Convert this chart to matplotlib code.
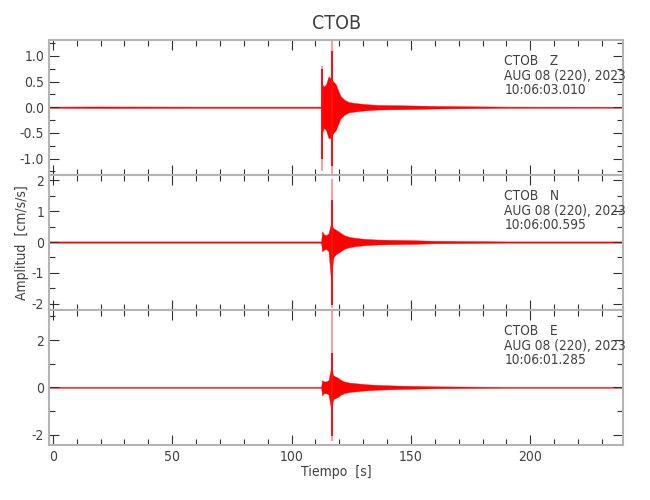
import matplotlib
matplotlib.use("Agg")
import matplotlib.pyplot as plt
from matplotlib.ticker import MultipleLocator
import numpy as np

title = "CTOB"
station = "CTOB"
components = ["Z", "N", "E"]
date_label = "AUG 08 (220), 2023"
start_times = ["10:06:03.010", "10:06:00.595", "10:06:01.285"]
xlabel = "Tiempo  [s]"
ylabel = "Amplitud  [cm/s/s]"

# envelope of the traces (time in s, amplitude in cm/s/s)
t_env = [-1.5, 20, 60, 100, 112.4, 112.8, 113.5, 114.5, 115.5, 116.5, 117.5, 118.5,
         119.5, 120.5, 122, 124, 127, 131, 136, 142, 150, 160, 175, 190, 239]
z_up = [0.012, 0.015, 0.012, 0.012, 0.012, 0.45, 0.4, 0.45, 0.6, 0.55, 0.5, 0.45,
        0.33, 0.22, 0.15, 0.1, 0.08, 0.06, 0.045, 0.04, 0.035, 0.025, 0.018, 0.012, 0.01]
z_lo = [-0.012, -0.015, -0.012, -0.012, -0.012, -0.5, -0.4, -0.45, -0.6, -0.6, -0.5, -0.45,
        -0.33, -0.22, -0.15, -0.1, -0.08, -0.06, -0.045, -0.04, -0.035, -0.025, -0.018, -0.012, -0.01]
n_up = [0.02, 0.02, 0.02, 0.02, 0.02, 0.35, 0.25, 0.22, 0.28, 0.6, 0.45, 0.4,
        0.35, 0.3, 0.22, 0.17, 0.13, 0.1, 0.08, 0.07, 0.06, 0.04, 0.03, 0.02, 0.02]
n_lo = [-0.02, -0.02, -0.02, -0.02, -0.02, -0.3, -0.25, -0.22, -0.3, -1.2, -0.5, -0.4,
        -0.35, -0.3, -0.22, -0.17, -0.13, -0.1, -0.08, -0.07, -0.06, -0.04, -0.03, -0.02, -0.02]
e_up = [0.02, 0.02, 0.02, 0.02, 0.02, 0.3, 0.25, 0.25, 0.3, 0.8, 0.5, 0.45,
        0.4, 0.32, 0.25, 0.2, 0.17, 0.13, 0.1, 0.08, 0.06, 0.04, 0.03, 0.02, 0.02]
e_lo = [-0.02, -0.02, -0.02, -0.02, -0.02, -0.35, -0.25, -0.25, -0.3, -0.9, -0.5, -0.45,
        -0.4, -0.32, -0.25, -0.2, -0.17, -0.13, -0.1, -0.08, -0.06, -0.04, -0.03, -0.02, -0.02]

# sharp peaks: time, full extent (faint) and solid core
z_spike_t = [112.8, 116.9]
z_spike_hi = [0.8, 1.3]
z_spike_lo = [-1.25, -1.35]
z_core_hi = [0.75, 1.1]
z_core_lo = [-1.0, -1.15]
n_spike_t = [116.8]
n_spike_hi = [2.05]
n_spike_lo = [-2.15]
n_core_hi = [1.35]
n_core_lo = [-2.05]
e_spike_t = [116.9]
e_spike_hi = [3.4]
e_spike_lo = [-2.25]
e_core_hi = [1.45]
e_core_lo = [-2.05]

ylims = [(-1.32, 1.31), (-2.2, 2.17), (-2.44, 3.27)]
ymajor = [0.5, 1.0, 2.0]
yminor = [0.25, 0.5, 1.0]
yfmt = ["%.1f", "%d", "%d"]

env_up = [z_up, n_up, e_up]
env_lo = [z_lo, n_lo, e_lo]
spikes = [(z_spike_t, z_spike_hi, z_spike_lo, z_core_hi, z_core_lo),
          (n_spike_t, n_spike_hi, n_spike_lo, n_core_hi, n_core_lo),
          (e_spike_t, e_spike_hi, e_spike_lo, e_core_hi, e_core_lo)]

plt.rcParams['font.family'] = ["DejaVu Sans"]
plt.rcParams['font.stretch'] = "condensed"
plt.rcParams['font.weight'] = "light"
txtc = "#404040"
spc = "#b4b4b4"

fig = plt.figure(figsize=(6.5, 5), dpi=100)
left, right, bottom, top = 0.0754, 0.959, 0.11, 0.92
h = (top - bottom) / 3
axes = []
for i in range(3):
    ax = fig.add_axes([left, top - (i + 1) * h, right - left, h])
    axes.append(ax)
    ax.fill_between(t_env, env_lo[i], env_up[i], color="red", lw=0.3)
    st, shi, slo, chi, clo = spikes[i]
    ax.vlines(st, slo, shi, color="#ff9a9a", lw=1.4)
    ax.vlines(st, clo, chi, color="red", lw=1.3)
    ax.set_xlim(-1.6, 239)
    ax.set_ylim(*ylims[i])
    ax.xaxis.set_major_locator(MultipleLocator(50))
    ax.xaxis.set_minor_locator(MultipleLocator(10))
    ax.yaxis.set_major_locator(MultipleLocator(ymajor[i]))
    ax.yaxis.set_minor_locator(MultipleLocator(yminor[i]))
    ax.yaxis.set_major_formatter(matplotlib.ticker.FormatStrFormatter(yfmt[i]))
    ax.tick_params(which="both", direction="in", top=True, right=True, color="#303030",
                   labelcolor=txtc, labelsize=10, width=0.8)
    ax.tick_params(which="major", length=7)
    ax.tick_params(which="minor", length=4)
    for s in ax.spines.values():
        s.set_color(spc)
        s.set_linewidth(1.5)
    if i < 2:
        ax.tick_params(labelbottom=False)
    ax.text(0.793, 0.895, f"{station}   {components[i]}\n{date_label}\n{start_times[i]}",
            transform=ax.transAxes, va="top", ha="left", fontsize=9.8, color=txtc,
            linespacing=1.05)

axes[0].set_title(title, fontsize=14, color=txtc, pad=8)
axes[2].set_xlabel(xlabel, fontsize=10, color=txtc, labelpad=1)
axes[1].set_ylabel(ylabel, fontsize=10, color=txtc)
axes[1].yaxis.set_label_coords(-0.034, 0.5)

fig.savefig("out.png", dpi=100)
